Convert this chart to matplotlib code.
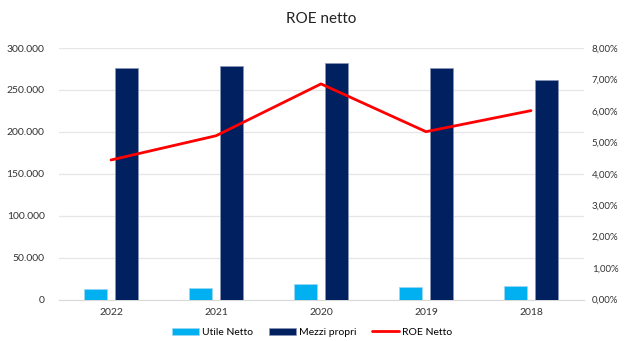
import matplotlib.pyplot as plt
import numpy as np
from matplotlib.ticker import FuncFormatter

# Valori annuali
anni = ['2022', '2021', '2020', '2019', '2018']
utile_netto = [12200, 14300, 19000, 14700, 15600]
mezzi_propri = [276500, 278500, 281700, 276100, 262200]
roe_netto = [4.44, 5.21, 6.86, 5.34, 6.01]

plt.rcParams['font.family'] = ['Lato', 'DejaVu Sans']

def fmt_migliaia(v, pos):
    return f"{int(v):,}".replace(',', '.')

def fmt_perc(v, pos):
    return f"{v:.2f}%".replace('.', ',')

fig = plt.figure(figsize=(6.24, 3.41), dpi=100)
ax = fig.add_axes([0.0938, 0.1217, 0.8413, 0.7373])
ax2 = ax.twinx()

x = np.arange(len(anni))
w = 0.222
ax.bar(x - 0.145, utile_netto, w, color='#00B0F0', edgecolor='#9fd8f0',
       linewidth=0.5, label='Utile Netto', zorder=3)
ax.bar(x + 0.145, mezzi_propri, w, color='#002060', edgecolor='#8a96b8',
       linewidth=0.5, label='Mezzi propri', zorder=3)
ax2.plot(x, roe_netto, color='#FF0000', linewidth=2, label='ROE Netto',
         solid_capstyle='round')

ax.set_xlim(-0.5, len(anni) - 0.5)
ax.set_ylim(0, 300000)
ax.set_yticks(np.arange(0, 300001, 50000))
ax.yaxis.set_major_formatter(FuncFormatter(fmt_migliaia))
ax2.set_ylim(0, 8)
ax2.set_yticks(np.arange(0, 8.01, 1))
ax2.yaxis.set_major_formatter(FuncFormatter(fmt_perc))

ax.set_xticks(x)
ax.set_xticklabels(anni)
ax.grid(axis='y', color='#e6e6e6', linewidth=0.9, zorder=0)
ax.set_axisbelow(True)

for a in (ax, ax2):
    for s in a.spines.values():
        s.set_visible(False)
    a.tick_params(length=0, labelsize=7.5, colors='#333333')
ax.spines['bottom'].set_visible(True)
ax.spines['bottom'].set_color('#d9d9d9')
ax.tick_params(axis='y', pad=10)
ax.tick_params(axis='x', pad=6)
ax2.tick_params(axis='y', pad=6, labelsize=7)

fig.text(0.515, 0.945, 'ROE netto', ha='center', va='center', fontsize=11,
         color='#222222')

h1, l1 = ax.get_legend_handles_labels()
h2, l2 = ax2.get_legend_handles_labels()
fig.legend(h1 + h2, l1 + l2, loc='center', bbox_to_anchor=(0.5, 0.025),
           ncol=3, frameon=False, fontsize=7.5, handlelength=2.6,
           handleheight=0.6, columnspacing=1.5, handletextpad=0.3)

fig.savefig('out.png', dpi=100)
